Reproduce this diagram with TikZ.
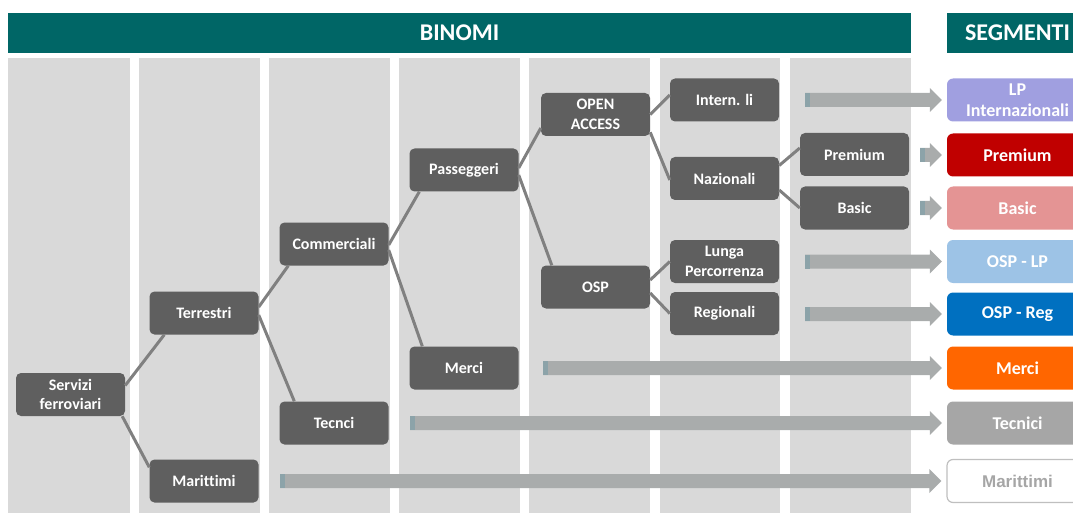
\documentclass[tikz,border=0pt]{standalone}
\usepackage{fontspec}
\setmainfont{Carlito}[Ligatures={NoCommon}]
\newfontfamily\arialf{Liberation Sans}
\usetikzlibrary{calc}
\definecolor{tealhdr}{HTML}{006666}
\definecolor{colbg}{HTML}{D9D9D9}
\definecolor{nodebg}{HTML}{5F5F5F}
\definecolor{linec}{HTML}{808080}
\definecolor{arrc}{HTML}{A9ACAC}
\definecolor{arrs}{HTML}{8CA3A9}
\definecolor{segLPc}{HTML}{A09FE0}
\definecolor{segPRc}{HTML}{C00000}
\definecolor{segBAc}{HTML}{E49494}
\definecolor{segOLc}{HTML}{9DC3E6}
\definecolor{segORc}{HTML}{0070C0}
\definecolor{segMEc}{HTML}{FF6600}
\definecolor{segTEc}{HTML}{A6A6A6}
\definecolor{segMAb}{HTML}{BFBFBF}
\newcommand\blkarrow[2]{%
  \fill[arrc] let \p1=(#1), \p2=(#2.west) in
    (\x1,\y2+7pt) -- (\x2-17pt,\y2+7pt) -- (\x2-17pt,\y2+12pt) -- (\x2-5pt,\y2)
    -- (\x2-17pt,\y2-12pt) -- (\x2-17pt,\y2-7pt) -- (\x1,\y2-7pt) -- cycle;
  \fill[arrs] let \p1=(#1), \p2=(#2.west) in
    (\x1,\y2+7pt) rectangle (\x1+5pt,\y2-7pt);
}
\begin{document}
\begin{tikzpicture}[x=1pt,y=-1pt,
  hdr/.style={fill=tealhdr, text=white, inner sep=0pt, minimum height=40pt,
    font=\bfseries\fontsize{24}{27}\selectfont},
  box/.style={fill=nodebg, rounded corners=5pt, minimum width=109pt, minimum height=43pt,
    inner sep=0pt, text=white, align=center, font=\bfseries\fontsize{16}{19.5}\selectfont},
  seg/.style={rounded corners=6pt, minimum width=141pt, minimum height=43pt,
    inner sep=0pt, text=white, align=center, font=\bfseries\fontsize{18}{21}\selectfont},
  conn/.style={draw=linec, line width=3pt}
]
\useasboundingbox (0,0) rectangle (1073,513);
\clip (0,0) rectangle (1073,513);
% headers
\node[hdr, minimum width=903pt] (binomi) at (459.5,33) {BINOMI};
\node[hdr, minimum width=141pt] (segmenti) at (1017.5,33) {SEGMENTI};
% columns
\foreach \a/\b in {8/130,139/260,269/390,399/520,529/650,660/780,790/911}
  \fill[colbg] (\a,58) rectangle (\b,513);
% tree nodes
\node[box] (serv)   at (70.5,394.5) {Servizi\\ferroviari};
\node[box] (terr)   at (204,313)    {Terrestri};
\node[box] (marit)  at (204,481)    {Marittimi};
\node[box] (comm)   at (334,244)    {Commerciali};
\node[box] (tecn)   at (334,423)    {Tecnci};
\node[box] (pass)   at (464,170)    {Passeggeri};
\node[box] (merci)  at (464,368)    {Merci};
\node[box] (open)   at (595.5,114.5){OPEN\\ACCESS};
\node[box] (osp)    at (595.5,287)  {OSP};
\node[box] (intern) at (724.5,100)  {Intern. li};
\node[box] (naz)    at (724.5,178.5){Nazionali};
\node[box] (lunga)  at (724.5,261.5){Lunga\\Percorrenza};
\node[box] (reg)    at (724.5,313.5){Regionali};
\node[box] (prem)   at (854.5,154.5){Premium};
\node[box] (basic)  at (854.5,208)  {Basic};
% segments
\node[seg, fill=segLPc] (sgLP) at (1017.5,100)   {LP\\Internazionali};
\node[seg, fill=segPRc] (sgPR) at (1017.5,155)   {Premium};
\node[seg, fill=segBAc] (sgBA) at (1017.5,208)   {Basic};
\node[seg, fill=segOLc] (sgOL) at (1017.5,261.5) {OSP - LP};
\node[seg, fill=segORc] (sgOR) at (1017.5,314)   {OSP - Reg};
\node[seg, fill=segMEc] (sgME) at (1017.5,368)   {Merci};
\node[seg, fill=segTEc] (sgTE) at (1017.5,423)   {Tecnici};
\node[seg, fill=white, draw=segMAb, line width=1.2pt, text=segTEc,
  font=\arialf\bfseries\fontsize{17}{20}\selectfont] (sgMA) at (1017.5,481) {Marittimi};
% connectors
\draw[conn] ($(serv.east)+(0,-9)$) -- ($(terr.south west)+(15,0)$);
\draw[conn] ($(serv.south east)+(-3,0)$) -- ($(marit.north west)+(0,8)$);
\draw[conn] ($(terr.east)+(0,-6)$) -- ($(comm.south west)+(9,0)$);
\draw[conn] ($(terr.east)+(0,2)$) -- ($(tecn.north west)+(15,0)$);
\draw[conn] ($(comm.east)+(0,1)$) -- ($(pass.south west)+(10,0)$);
\draw[conn] ($(comm.east)+(0,6)$) -- ($(merci.north west)+(13,0)$);
\draw[conn] ($(pass.east)+(0,-2)$) -- ($(open.west)+(0,13.5)$);
\draw[conn] ($(pass.east)+(0,5)$) -- ($(osp.north west)+(11,0)$);
\draw[conn] (open.east) -- ($(intern.west)+(0,-5)$);
\draw[conn] ($(open.south east)+(0,-4)$) -- ($(naz.west)+(0,1.5)$);
\draw[conn] ($(naz.east)+(0,-13)$) -- ($(prem.west)+(0,-6.5)$);
\draw[conn] ($(naz.east)+(0,11.5)$) -- (basic.west);
\draw[conn] ($(osp.east)+(0,-7)$) -- (lunga.west);
\draw[conn] ($(osp.east)+(0,6)$) -- (reg.west);
% arrow start points
\coordinate (aLP) at (805,0);
\coordinate (aPR) at (920,0);
\coordinate (aBA) at (920,0);
\coordinate (aOL) at (805,0);
\coordinate (aOR) at (805,0);
\coordinate (aME) at (543,0);
\coordinate (aTE) at (410,0);
\coordinate (aMA) at (280,0);
\blkarrow{aLP}{sgLP}
\blkarrow{aPR}{sgPR}
\blkarrow{aBA}{sgBA}
\blkarrow{aOL}{sgOL}
\blkarrow{aOR}{sgOR}
\blkarrow{aME}{sgME}
\blkarrow{aTE}{sgTE}
\blkarrow{aMA}{sgMA}
\end{tikzpicture}
\end{document}
